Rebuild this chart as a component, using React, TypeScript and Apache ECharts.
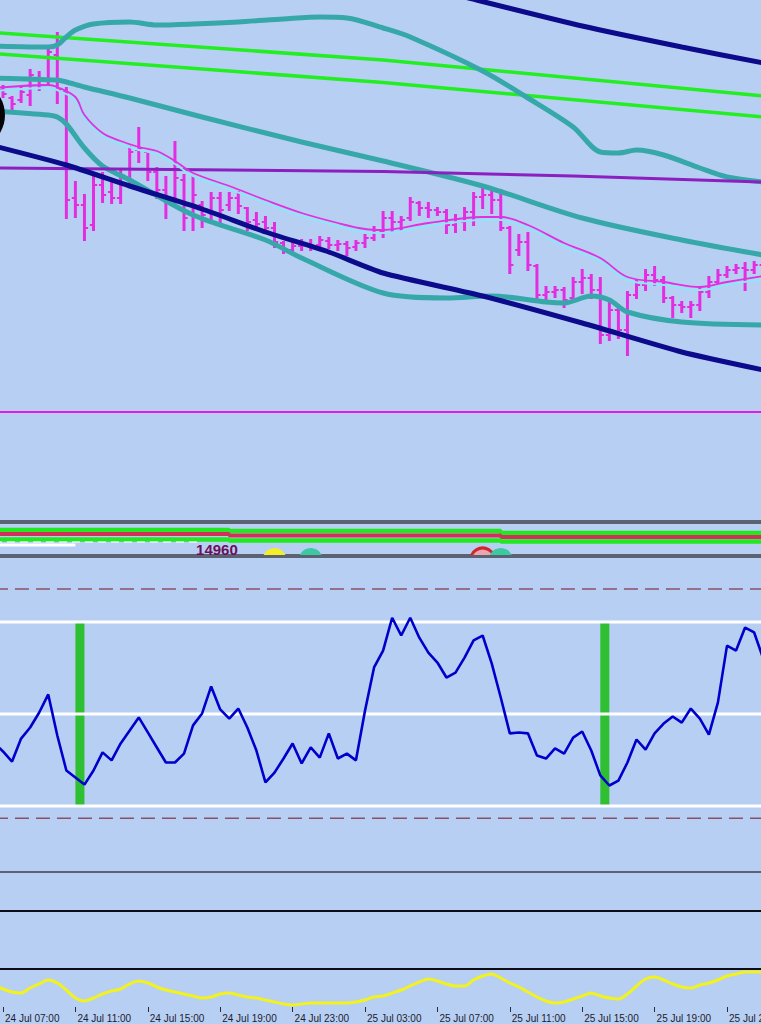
import React, { useEffect, useRef } from "react";
import * as echarts from "echarts";

// ---------- time axis (30-minute bars) ----------
const firstBarDay = 24;
const firstBarMinute = 6 * 60 + 30;
const barMinutes = 30;
const barCount = 86;
const monthName = "Jul";
const pad2 = (n: number) => (n < 10 ? "0" + n : String(n));
const categories: string[] = [];
for (let n = 0; n < barCount; n++) {
  const t = firstBarMinute + n * barMinutes;
  const day = firstBarDay + Math.floor(t / 1440);
  const m = t % 1440;
  categories.push(`${day} ${monthName} ${pad2(Math.floor(m / 60))}:${pad2(m % 60)}`);
}
const labelEvery = 8;
const labelOffset = 1;

// ---------- price bars (OHLC) ----------
const barOpen = [
  15120, 15121, 15117, 15116, 15118.5, 15127, 15126, 15138.5, 15120, 15067,
  15063.5, 15053.5, 15073.5, 15070, 15067, 15077, 15091, 15090, 15080, 15071,
  15067, 15076, 15058.5, 15063.5, 15060, 15067, 15063.5, 15067, 15062, 15056,
  15055, 15052, 15044.5, 15041, 15043, 15044, 15043.5, 15045.5, 15043.5, 15044,
  15042.5, 15044.5, 15047, 15050.5, 15057, 15055, 15057, 15064.5, 15062, 15061,
  15060, 15053.5, 15055, 15060, 15067.5, 15068.5, 15066, 15052, 15041, 15045,
  15033, 15018.5, 15020, 15021, 15017, 15025, 15027, 15021, 14998.5, 15011,
  15001, 15018.5, 15023.5, 15028.5, 15026, 15017, 15013.5, 15012.5, 15013.5, 15020,
  15025, 15028.5, 15031, 15032, 15031, 15033.5,
];
const barHigh = [
  15122, 15123, 15117.5, 15122, 15131, 15130, 15142, 15149.5, 15122, 15075,
  15068.5, 15077.5, 15079.5, 15075, 15081, 15092.5, 15102, 15090, 15082, 15077.5,
  15095, 15078.5, 15077.5, 15065, 15069.5, 15069.5, 15069.5, 15070, 15062, 15059.5,
  15057.5, 15054.5, 15045, 15044.5, 15046, 15046, 15047.5, 15047, 15045.5, 15045,
  15045.5, 15048.5, 15052.5, 15060, 15060, 15057.5, 15067, 15065, 15064.5, 15062,
  15061, 15058.5, 15062, 15069.5, 15072.5, 15070, 15071, 15052.5, 15048.5, 15049.5,
  15033.5, 15022.5, 15022.5, 15022, 15027, 15031, 15028.5, 15027, 15016, 15013.5,
  15020, 15026, 15031, 15032.5, 15027.5, 15017.5, 15015, 15015, 15022, 15027.5,
  15031, 15032.5, 15033.5, 15034.5, 15035, 15035,
];
const barLow = [
  15116, 15117.5, 15111, 15115, 15113.5, 15121, 15123.5, 15114.5, 15057, 15057.5,
  15046, 15051, 15065, 15064.5, 15064.5, 15074.5, 15085, 15076, 15067, 15057,
  15064.5, 15051, 15051, 15052.5, 15056, 15053.5, 15061, 15059.5, 15051, 15051,
  15049.5, 15042.5, 15039.5, 15039.5, 15041, 15041, 15042, 15042, 15041, 15038.5,
  15041, 15042.5, 15046, 15047.5, 15050, 15051, 15056, 15058.5, 15057.5, 15058.5,
  15049.5, 15050, 15051, 15053.5, 15062, 15059.5, 15051, 15029.5, 15038.5, 15031,
  15016, 15015, 15017.5, 15012.5, 15017, 15019.5, 15017, 14994.5, 14996, 14997,
  14988.5, 15017, 15021, 15023.5, 15015, 15007.5, 15010, 15007.5, 15011, 15017.5,
  15024.5, 15027.5, 15029.5, 15021, 15029.5, 15028.5,
];
const barClose = [
  15118.5, 15119, 15114, 15120, 15128.5, 15123.5, 15140, 15121, 15066, 15063.5,
  15052, 15073.5, 15068.5, 15067, 15078.5, 15090, 15092, 15080, 15071, 15066,
  15077, 15057, 15068.5, 15058.5, 15067, 15061, 15067, 15063, 15055, 15054,
  15052, 15045, 15041, 15043, 15044, 15043, 15046, 15043.5, 15044, 15042,
  15044.5, 15047, 15051, 15057, 15055, 15056, 15065, 15062, 15061, 15060,
  15053.5, 15055, 15060, 15067.5, 15068.5, 15066, 15052, 15033.5, 15045, 15033.5,
  15018.5, 15020, 15021, 15016, 15025, 15027, 15021, 14998.5, 15011, 15001,
  15018.5, 15023.5, 15028.5, 15026, 15017, 15013.5, 15012.5, 15013.5, 15020, 15025,
  15028.5, 15031, 15032, 15031, 15033.5, 15032,
];

// ---------- main-panel indicator lines: [barIndex, price] ----------
const navyLowerPts = [[0, 15093], [8, 15083.5], [15, 15073], [23, 15061.5], [30, 15050], [37, 15040], [43, 15029.5], [54, 15018], [65, 15004.5], [76, 14990], [85, 14981]];
const navyUpperPts = [[45, 15175.5], [52, 15167.5], [65, 15153], [76, 15142.5], [85, 15134.5]];
const greenUpperPts = [[0, 15149.75], [43, 15136], [85, 15118]];
const greenLowerPts = [[0, 15139.25], [43, 15124.75], [85, 15107.5]];
const purplePts = [[0, 15082], [43, 15080.25], [64, 15078], [85, 15075]];
const tealUpperPts = [[0, 15143], [6, 15142.5], [7, 15143.5], [8, 15147.5], [9, 15151], [11, 15154], [15, 15155], [18, 15153.5], [22, 15154], [27, 15155], [32, 15156.5], [36, 15157.5], [39, 15157], [43, 15152], [46, 15147.5], [54, 15130.5], [59, 15117], [64, 15102.5], [67, 15090], [69, 15089.5], [71, 15091], [74, 15088.5], [78, 15082], [81, 15077.5], [85, 15075]];
const tealMidPts = [[0, 15127], [7, 15126], [8, 15125], [10, 15122.5], [15, 15117], [23, 15107.5], [34, 15095], [43, 15085.5], [54, 15073], [65, 15057], [76, 15046], [85, 15038.5]];
const tealLowerPts = [[0, 15110.5], [6, 15108.5], [7, 15107.5], [8, 15104], [10, 15092], [12, 15083], [15, 15076], [22, 15058.5], [30, 15046], [34, 15037], [43, 15019.5], [50, 15017], [55, 15018], [61, 15015], [63, 15014.5], [66, 15018], [68, 15016], [70, 15010], [76, 15005], [85, 15003.5]];
const maPinkPts = [[0, 15122], [6, 15123.5], [7, 15122.5], [9, 15117.5], [10, 15108.5], [12, 15099.5], [14, 15095.5], [16, 15092.5], [18, 15090.5], [20, 15085.5], [22, 15079.5], [26, 15073], [30, 15066], [34, 15059.5], [38, 15054.5], [41, 15051.5], [43, 15051], [48, 15054.5], [54, 15057.5], [56, 15057.5], [59, 15053.5], [63, 15044.5], [67, 15037], [70, 15027.5], [74, 15025], [78, 15022.5], [81, 15025], [85, 15028]];
const maCyanPts = [[0, 15120.5], [6, 15122], [7, 15121], [9, 15116], [10, 15107], [12, 15098], [14, 15094], [16, 15091], [18, 15089], [20, 15084], [22, 15078], [26, 15071.5], [30, 15064.5], [34, 15058], [38, 15053], [41, 15050], [43, 15049.5], [48, 15053], [54, 15056], [56, 15056], [59, 15052], [63, 15043], [67, 15035.5], [70, 15026], [74, 15023.5], [78, 15021], [81, 15023.5], [85, 15026.5]];
const magentaLevel = 14960;

// ---------- signal strip ----------
const stripGreenTop = [[0, 25], [26, 25], [26, 24], [56, 24], [56, 22], [85, 22]];
const stripRed = [[0, 21], [26, 21], [26, 19.5], [56, 19.5], [56, 18], [85, 18]];
const stripGreenBottom = [[0, 15.5], [26, 15.5], [26, 14.5], [56, 14.5], [56, 13.5], [85, 13.5]];
const stripWhiteSolid = [[0, 10], [9, 10]];
const stripWhiteDashed = [[0, 13], [23, 13]];
const signalBars = [31, 35, 54, 56];
const signalLevel = -5;
const signalKinds = ["yellow", "teal", "red", "teal"];
const levelTextPos = [22, 13];

// ---------- oscillator ----------
const oscValues = [
  40.7, 37.8, 34.5, 42.0, 45.6, 50.5, 56.4, 43.0, 31.6, 29.3,
  27.0, 31.6, 37.5, 34.9, 40.4, 44.6, 48.9, 44.0, 39.1, 34.2,
  34.2, 37.1, 46.3, 50.2, 59.0, 51.5, 48.5, 51.8, 45.6, 38.1,
  27.7, 30.9, 35.5, 40.4, 33.9, 39.1, 35.8, 43.7, 35.5, 37.1,
  34.9, 51.1, 65.2, 70.7, 81.4, 75.6, 81.4, 74.9, 70.0, 66.8,
  61.9, 63.5, 68.4, 74.0, 75.6, 66.5, 55.4, 43.7, 44.0, 43.7,
  36.5, 35.5, 38.8, 37.1, 42.3, 44.3, 38.1, 30.0, 26.7, 28.3,
  34.2, 41.7, 38.4, 43.7, 46.9, 49.2, 47.2, 51.8, 48.5, 43.3,
  53.8, 72.3, 70.7, 78.2, 76.6, 68.1,
];
const oscSolidLevels = [80, 50, 20];
const oscDashedLevels = [90.8, 16];
const histBars = [10, 68];
const histRange = [20, 80];

// ---------- bottom (yellow) indicator ----------
const yellowValues = [
  59.5, 48.6, 40.5, 37.8, 51.4, 62.2, 73.0, 64.9, 45.9, 24.3,
  16.2, 24.3, 35.1, 43.2, 48.6, 62.2, 70.3, 64.9, 54.1, 45.9,
  40.5, 35.1, 29.7, 24.3, 27.0, 35.1, 37.8, 32.4, 27.0, 24.3,
  18.9, 13.5, 8.1, 5.4, 8.1, 10.8, 10.8, 10.8, 10.8, 10.8,
  13.5, 18.9, 27.0, 29.7, 37.8, 45.9, 56.8, 67.6, 75.7, 70.3,
  62.2, 56.8, 56.8, 73.0, 83.8, 89.2, 78.4, 64.9, 54.1, 40.5,
  27.0, 16.2, 10.8, 13.5, 21.6, 29.7, 37.8, 29.7, 24.3, 21.6,
  35.1, 56.8, 75.7, 81.1, 73.0, 62.2, 54.1, 51.4, 59.5, 64.9,
  73.0, 83.8, 89.2, 94.6, 94.6, 94.6,
];

// ---------- styling ----------
const BG = "#b8cff4";
const GRID_L = -6.05;
const GRID_R = -2.2;
const BAR_COLOR = "#e22ee0";

const labelFilter = (index: number) => (index - labelOffset) % labelEvery === 0;

function line(name: string, data: any[], grid: number, color: string, width: number, extra: any = {}) {
  return {
    name,
    type: "line",
    xAxisIndex: grid,
    yAxisIndex: grid,
    data,
    symbol: "none",
    showSymbol: false,
    silent: true,
    clip: true,
    lineStyle: { color, width, ...(extra.lineStyle || {}) },
    ...Object.fromEntries(Object.entries(extra).filter(([k]) => k !== "lineStyle")),
  };
}

function buildOption(): any {
  const gridBase = { left: GRID_L, right: GRID_R, outerBoundsMode: "none", containLabel: false };
  const xAxes = [0, 1, 2, 3, 4].map((g) => ({
    type: "category",
    gridIndex: g,
    data: categories,
    boundaryGap: false,
    axisLine: { show: false },
    axisTick:
      g === 4
        ? { show: true, interval: labelFilter, length: 5, lineStyle: { color: "#2a2a3a", width: 1 } }
        : { show: false },
    axisLabel:
      g === 4
        ? {
            show: true,
            interval: labelFilter,
            align: "left",
            padding: [0, 0, 0, 2],
            margin: 6,
            fontSize: 10,
            color: "#1c1c2c",
            fontFamily: "Liberation Sans, Arial, sans-serif",
          }
        : { show: false },
    splitLine: { show: false },
  }));
  const yRanges = [
    [14905.5, 15167.5],
    [0, 32],
    [-1.5, 101.2],
    [0, 1],
    [0, 100],
  ];
  const yAxes = yRanges.map(([min, max], g) => ({
    type: "value",
    gridIndex: g,
    min,
    max,
    show: false,
    splitLine: { show: false },
  }));

  const ohlcData = categories.map((_, i) => [i, barOpen[i], barHigh[i], barLow[i], barClose[i]]);

  const series: any[] = [
    // main panel
    line("green upper", greenUpperPts, 0, "#22ee22", 3.5),
    line("green lower", greenLowerPts, 0, "#22ee22", 3.5),
    line("teal upper", tealUpperPts, 0, "#36a8aa", 5, { smooth: 0.3 }),
    line("teal mid", tealMidPts, 0, "#36a8aa", 5, { smooth: 0.3 }),
    line("teal lower", tealLowerPts, 0, "#36a8aa", 5, { smooth: 0.3 }),
    line("purple", purplePts, 0, "#8b1fc0", 3),
    line("navy lower", navyLowerPts, 0, "#0b0b8c", 5, { smooth: 0.2 }),
    line("navy upper", navyUpperPts, 0, "#0b0b8c", 5, { smooth: 0.2 }),
    line("level", [[0, magentaLevel], [barCount - 1, magentaLevel]], 0, "#e619e6", 2),
    line("ma cyan", maCyanPts, 0, "#8ee6f7", 2, { smooth: 0.35 }),
    line("ma pink", maPinkPts, 0, "#e030e0", 1.8, { smooth: 0.35 }),
    {
      name: "price",
      type: "custom",
      xAxisIndex: 0,
      yAxisIndex: 0,
      clip: true,
      silent: true,
      data: ohlcData,
      encode: { x: 0, y: [1, 2, 3, 4] },
      renderItem: (params: any, api: any) => {
        const i = api.value(0);
        const o = api.coord([i, api.value(1)]);
        const h = api.coord([i, api.value(2)]);
        const l = api.coord([i, api.value(3)]);
        const c = api.coord([i, api.value(4)]);
        const t = api.size([1, 0])[0] * 0.4;
        return {
          type: "group",
          children: [
            { type: "line", shape: { x1: h[0], y1: h[1] - 1, x2: l[0], y2: l[1] + 1 }, style: { stroke: BAR_COLOR, lineWidth: 3 } },
            { type: "line", shape: { x1: o[0] - t, y1: o[1], x2: o[0], y2: o[1] }, style: { stroke: BAR_COLOR, lineWidth: 2 } },
            { type: "line", shape: { x1: c[0], y1: c[1], x2: c[0] + t, y2: c[1] }, style: { stroke: BAR_COLOR, lineWidth: 2 } },
          ],
        };
      },
    },
    // signal strip
    line("strip green top", stripGreenTop, 1, "#22e822", 4.5),
    line("strip red", stripRed, 1, "#d2305a", 4),
    line("strip green bottom", stripGreenBottom, 1, "#22e822", 4.5),
    line("strip white dashed", stripWhiteDashed, 1, "rgba(255,255,255,0.75)", 1.5, { lineStyle: { type: [8, 5] } }),
    line("strip white", stripWhiteSolid, 1, "#ffffff", 3),
    {
      name: "signals",
      type: "custom",
      xAxisIndex: 1,
      yAxisIndex: 1,
      clip: true,
      silent: true,
      data: signalBars.map((b) => [b, signalLevel]),
      renderItem: (params: any, api: any) => {
        const p = api.coord([api.value(0), api.value(1)]);
        const kind = signalKinds[params.dataIndex];
        const style =
          kind === "yellow"
            ? { fill: "#f2ee2a" }
            : kind === "red"
            ? { fill: "#eaa6b0", stroke: "#d02828", lineWidth: 3 }
            : { fill: "#3cc8a0" };
        return { type: "circle", shape: { cx: p[0], cy: p[1], r: 12 }, style };
      },
    },
    {
      name: "level text",
      type: "custom",
      xAxisIndex: 1,
      yAxisIndex: 1,
      clip: true,
      silent: true,
      data: [levelTextPos],
      renderItem: (params: any, api: any) => {
        const p = api.coord([api.value(0), api.value(1)]);
        return {
          type: "text",
          x: p[0] + 3,
          y: p[1],
          style: {
            text: String(magentaLevel),
            fill: "#6b0f5c",
            font: 'bold 15px "Liberation Sans", Arial, sans-serif',
            textAlign: "left",
            textVerticalAlign: "top",
            verticalAlign: "top",
          },
        };
      },
    },
    // oscillator
    {
      name: "hist",
      type: "custom",
      xAxisIndex: 2,
      yAxisIndex: 2,
      clip: true,
      silent: true,
      data: histBars.map((b) => [b, histRange[0], histRange[1]]),
      renderItem: (params: any, api: any) => {
        const i = api.value(0);
        const right = api.coord([i, api.value(2)]);
        const left = api.coord([i - 1, api.value(1)]);
        return {
          type: "rect",
          shape: { x: left[0], y: right[1], width: right[0] - left[0], height: left[1] - right[1] },
          style: { fill: "#2fbf33" },
        };
      },
    },
    ...oscDashedLevels.map((v) =>
      line("osc dashed " + v, [[0, v], [barCount - 1, v]], 2, "#8a5068", 1.5, { lineStyle: { type: [14, 7] } })
    ),
    ...oscSolidLevels.map((v) => line("osc level " + v, [[0, v], [barCount - 1, v]], 2, "#ffffff", 3)),
    line("osc", oscValues.map((v, i) => [i, v]), 2, "#0000cc", 2.6),
    // bottom yellow
    line("yellow", yellowValues.map((v, i) => [i, v]), 4, "#f2f21e", 3, { smooth: 0.3 }),
  ];

  return {
    animation: false,
    backgroundColor: BG,
    grid: [
      { ...gridBase, top: -3, height: 524, show: true, borderColor: "#5b6272", borderWidth: 2 },
      { ...gridBase, top: 523, height: 32, show: true, borderColor: "#5b6272", borderWidth: 2 },
      { ...gridBase, top: 557, height: 315, show: true, borderColor: "#5b6272", borderWidth: 2 },
      { ...gridBase, top: 911, height: 58, show: true, borderColor: "#0d0d1a", borderWidth: 2 },
      { ...gridBase, top: 970, height: 37, show: false },
    ],
    xAxis: xAxes,
    yAxis: yAxes,
    graphic: [
      { type: "circle", shape: { cx: -30, cy: 115, r: 35 }, style: { fill: "#050505" }, z: 100 },
    ],
    series,
  };
}

export default function App() {
  const ref = useRef<HTMLDivElement>(null);
  useEffect(() => {
    if (!ref.current) return;
    const chart = echarts.init(ref.current, null, { renderer: "svg", width: 761, height: 1024 });
    chart.setOption(buildOption());
    return () => chart.dispose();
  }, []);
  return (
    <div
      ref={ref}
      style={{ position: "absolute", left: 0, top: 0, width: 761, height: 1024, background: BG, overflow: "hidden" }}
    />
  );
}
